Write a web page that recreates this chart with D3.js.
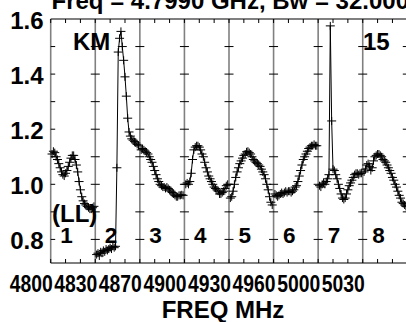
<!DOCTYPE html>
<html>
<head>
<meta charset="utf-8">
<script src="https://cdn.jsdelivr.net/npm/d3@7"></script>
<style>
  html, body { margin: 0; padding: 0; background: #fff; }
  svg { display: block; font-family: "Liberation Sans", Arial, Helvetica, sans-serif; font-weight: bold; }
</style>
</head>
<body>
<svg id="chart" width="406" height="322"></svg>
<script>
// Spectrum of amplitude vs channel for 8 IFs (KM, LL polarization, source 15)
const titleText = "Freq = 4.7990 GHz, Bw = 32.000";
const ifNames = ["1", "2", "3", "4", "5", "6", "7", "8"];
const freqTickLabels = ["4800", "4830", "4870", "4900", "4930", "4960", "5000", "5030"];
const ampTickValues = [0.8, 1.0, 1.2, 1.4, 1.6];
const ampMinorTicks = [0.8, 0.9, 1.0, 1.1, 1.2, 1.3, 1.4, 1.5];

const if1 = [1.11, 1.12, 1.115, 1.10, 1.09, 1.075, 1.06, 1.045, 1.035, 1.03, 1.04, 1.05, 1.065, 1.08, 1.095, 1.105,
             1.105, 1.09, 1.07, 1.045, 1.01, 0.98, 0.955, 0.94, 0.93, 0.925, 0.92, 0.915, 0.91, 0.91, 0.915, 0.92];
const if2 = [0.745, 0.75, 0.74, 0.755, 0.75, 0.76, 0.755, 0.765, 0.76, 0.765, 0.77, 0.765, 0.775, 0.77, 0.775, 1.06,
             1.48, 1.53, 1.555, 1.50, 1.45, 1.39, 1.32, 1.24, 1.19, 1.175, 1.165, 1.16, 1.155, 1.15, 1.145, 1.14];
const if3 = [1.125, 1.13, 1.125, 1.12, 1.115, 1.11, 1.10, 1.09, 1.08, 1.065, 1.05, 1.035, 1.02, 1.01, 1.0, 0.995,
             0.99, 0.99, 0.985, 0.99, 0.985, 0.98, 0.975, 0.97, 0.965, 0.96, 0.955, 0.955, 0.96, 0.96, 0.962, 0.96];
const if4 = [1.0, 1.005, 1.0, 1.01, 1.04, 1.09, 1.125, 1.135, 1.14, 1.14, 1.135, 1.125, 1.11, 1.10, 1.08, 1.06,
             1.045, 1.03, 1.02, 1.01, 1.0, 0.99, 0.985, 0.98, 0.975, 0.965, 0.965, 0.97, 0.975, 0.985, 0.995, 1.0];
const if5 = [0.95, 0.955, 0.975, 1.0, 1.025, 1.045, 1.06, 1.075, 1.085, 1.095, 1.105, 1.11, 1.118, 1.12, 1.115, 1.11,
             1.10, 1.09, 1.085, 1.08, 1.075, 1.07, 1.065, 1.055, 1.045, 1.035, 1.02, 1.0, 0.98, 0.955, 0.935, 0.925];
const if6 = [0.965, 0.96, 0.955, 0.96, 0.965, 0.97, 0.965, 0.97, 0.975, 0.97, 0.975, 0.975, 0.97, 0.975, 0.98, 0.99,
             0.995, 1.01, 1.03, 1.05, 1.07, 1.09, 1.10, 1.11, 1.12, 1.13, 1.135, 1.14, 1.14, 1.145, 1.14, 1.14];
const if7 = [0.995, 0.99, 1.0, 1.005, 1.0, 1.01, 1.02, 1.035, 1.575, 1.23, 1.055, 1.05, 1.035, 1.02, 1.0, 0.985,
             0.965, 0.95, 0.945, 0.95, 0.965, 0.98, 0.995, 1.005, 1.015, 1.025, 1.035, 1.04, 1.04, 1.035, 1.04, 1.04];
const if8 = [1.045, 1.055, 1.07, 1.075, 1.065, 1.05, 1.06, 1.085, 1.10, 1.105, 1.11, 1.11, 1.105, 1.10, 1.09, 1.085,
             1.08, 1.07, 1.06, 1.05, 1.04, 1.025, 1.015, 1.0, 0.99, 0.975, 0.96, 0.95, 0.935, 0.93, 0.925, 0.92];
const spectra = [if1, if2, if3, if4, if5, if6, if7, if8];

const svg = d3.select("#chart");

// x runs in IF units: IF i covers [i, i+1]; channels sit evenly inside it
const x = d3.scaleLinear().domain([0, 8]).range([50.7, 407.3]);
const y = d3.scaleLinear().domain([0.7144, 1.6]).range([263, 19]);
const yTop = y(1.6), yBot = y.range()[0];

// IF separators (and left frame edge)
svg.append("g").selectAll("line").data(d3.range(0, 9)).join("line")
  .attr("x1", d => x(d)).attr("x2", d => x(d))
  .attr("y1", yTop).attr("y2", yBot)
  .attr("stroke", "#808080").attr("stroke-width", 1.6);

// top and bottom frame lines
svg.append("line").attr("x1", x(0)).attr("x2", x(8)).attr("y1", yTop).attr("y2", yTop)
  .attr("stroke", "#000").attr("stroke-width", 1.2);
svg.append("line").attr("x1", x(0)).attr("x2", x(8)).attr("y1", yBot).attr("y2", yBot)
  .attr("stroke", "#000").attr("stroke-width", 1.2);

// frequency minor ticks: three per IF, inward from top and bottom
const xTickPos = d3.range(0, 25).map(k => k / 3);
const tg = svg.append("g").attr("stroke", "#000").attr("stroke-width", 1);
tg.selectAll("line.b").data(xTickPos).join("line").attr("class", "b")
  .attr("x1", d => x(d)).attr("x2", d => x(d)).attr("y1", yBot).attr("y2", yBot - 4);
tg.selectAll("line.t").data(xTickPos).join("line").attr("class", "t")
  .attr("x1", d => x(d)).attr("x2", d => x(d)).attr("y1", yTop).attr("y2", yTop + 4);

// amplitude ticks on every IF edge, inward on both sides
const edgeTicks = [];
d3.range(0, 9).forEach(i => ampMinorTicks.forEach(v => edgeTicks.push({ i, v })));
tg.selectAll("line.y").data(edgeTicks).join("line").attr("class", "y")
  .attr("x1", d => x(d.i) - (d.i === 0 ? 0 : 4.5))
  .attr("x2", d => x(d.i) + 4.5)
  .attr("y1", d => y(d.v)).attr("y2", d => y(d.v));

// amplitude labels
svg.append("g").selectAll("text").data(ampTickValues).join("text")
  .attr("x", 43.5).attr("y", d => y(d) + 9.5)
  .attr("text-anchor", "end").attr("font-size", 24)
  .text(d => d3.format(".1f")(d));

// frequency labels
svg.append("g").selectAll("text").data(freqTickLabels).join("text")
  .attr("x", (d, i) => x(i) + 2).attr("y", 292.3)
  .attr("text-anchor", "end").attr("font-size", 24)
  .attr("textLength", 43).attr("lengthAdjust", "spacingAndGlyphs")
  .text(d => d);

svg.append("text").attr("x", 223).attr("y", 318).attr("text-anchor", "middle")
  .attr("font-size", 24).text("FREQ MHz");

svg.append("text").attr("x", 51.5).attr("y", 8.5).attr("font-size", 24).text(titleText);

// annotations
svg.append("text").attr("x", 73).attr("y", 50).attr("font-size", 24).text("KM");
svg.append("text").attr("x", 363).attr("y", 50).attr("font-size", 24).text("15");
svg.append("text").attr("x", 52).attr("y", 221.5).attr("font-size", 24).text("(LL)");
svg.append("g").selectAll("text").data(ifNames).join("text")
  .attr("x", (d, i) => x(i) + 9.5).attr("y", 243)
  .attr("font-size", 22.5).text(d => d);

// spectra: one connected trace per IF with + markers
const line = d3.line().x(d => x(d.pos)).y(d => y(d.v));
spectra.forEach((vals, i) => {
  const pts = vals.map((v, c) => ({ pos: i + (c + 1) / (vals.length + 1), v }));
  const g = svg.append("g");
  g.append("path").attr("d", line(pts)).attr("fill", "none")
    .attr("stroke", "#000").attr("stroke-width", 1);
  g.selectAll("path.m").data(pts).join("path").attr("class", "m")
    .attr("transform", d => `translate(${x(d.pos)},${y(d.v)})`)
    .attr("d", "M-4.5,0H4.5M0,-4V4")
    .attr("stroke", "#000").attr("stroke-width", 1).attr("fill", "none");
});
</script>
</body>
</html>
